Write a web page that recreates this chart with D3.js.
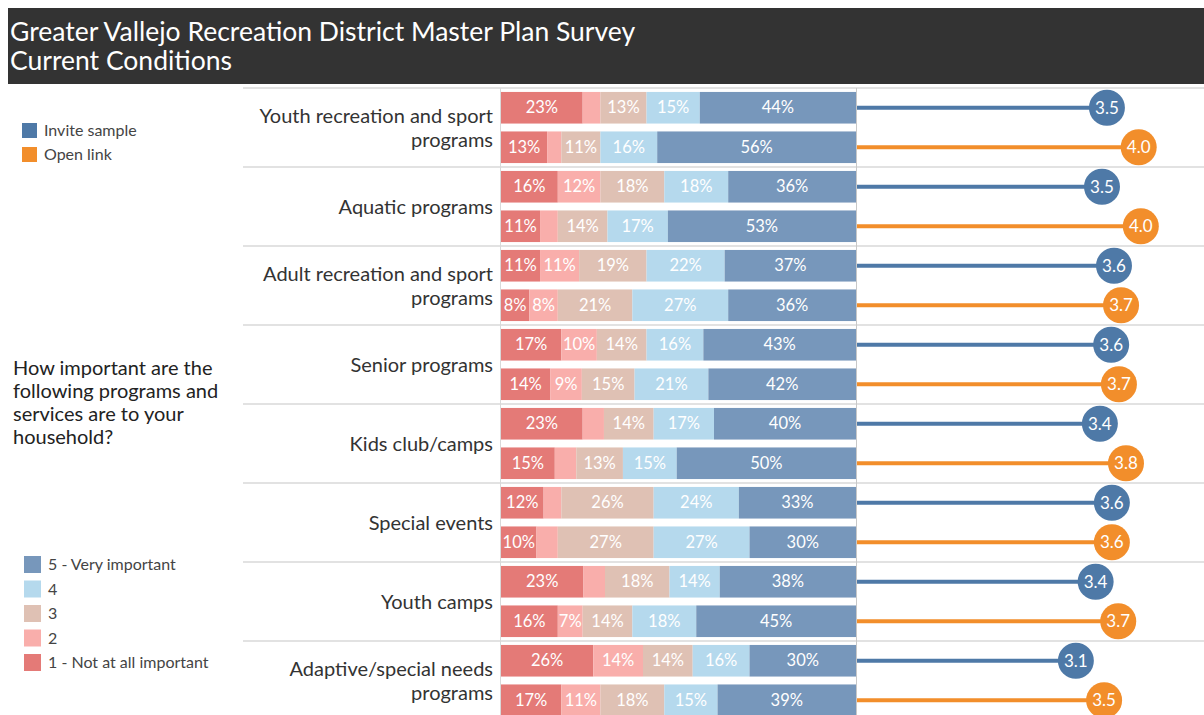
<!DOCTYPE html>
<html><head><meta charset="utf-8">
<script src="https://cdn.jsdelivr.net/npm/d3@7"></script>
<style>
html,body{margin:0;padding:0;background:#fff;}
svg{display:block;font-family:Lato,"Open Sans",sans-serif;}
</style></head>
<body>
<svg id="chart" width="1204" height="715"></svg>
<script>
const titleLines = ["Greater Vallejo Recreation District Master Plan Survey", "Current Conditions"];
const questionLines = ["How important are the", "following programs and", "services are to your", "household?"];
const categories = [
  ["Youth recreation and sport", "programs"],
  ["Aquatic programs"],
  ["Adult recreation and sport", "programs"],
  ["Senior programs"],
  ["Kids club/camps"],
  ["Special events"],
  ["Youth camps"],
  ["Adaptive/special needs", "programs"]
];
const samples = ["Invite sample", "Open link"];
const ratingLabels = ["1 - Not at all important", "2", "3", "4", "5 - Very important"];
// shares of ratings 1..5 (percent) per category, invite sample
const inviteShares = [
  [23, 5, 13, 15, 44],
  [16, 12, 18, 18, 36],
  [11, 11, 19, 22, 37],
  [17, 10, 14, 16, 43],
  [23, 6, 14, 17, 40],
  [12, 5, 26, 24, 33],
  [23, 6, 18, 14, 38],
  [26, 14, 14, 16, 30]
];
// open link
const openShares = [
  [13, 4, 11, 16, 56],
  [11, 5, 14, 17, 53],
  [8, 8, 21, 27, 36],
  [14, 9, 15, 21, 42],
  [15, 6, 13, 15, 50],
  [10, 6, 27, 27, 30],
  [16, 7, 14, 18, 45],
  [17, 11, 18, 15, 39]
];
const inviteMeans = [3.54, 3.47, 3.64, 3.60, 3.44, 3.61, 3.38, 3.10];
const openMeans = [3.99, 4.02, 3.74, 3.71, 3.81, 3.61, 3.70, 3.50];

const sampleColors = ["#4e79a7", "#f28e2b"];
const ratingColors = ["#e47a77", "#f9aeab", "#dfc1b4", "#b5d9ed", "#7797bb"];

const svg = d3.select("#chart");

// Title bar
svg.append("rect").attr("x", 8).attr("y", 8).attr("width", 1196).attr("height", 76).attr("fill", "#333333");
svg.append("g").selectAll("text").data(titleLines).join("text")
  .attr("x", 10).attr("y", (d, i) => 41 + i * 29)
  .attr("fill", "#fff").attr("font-size", 26.5).text(d => d);

// Layout scales
const rowsTop = 88, bandH = 79;
const yCat = d3.scaleBand().domain(d3.range(categories.length)).range([rowsTop, rowsTop + bandH * categories.length]);
const ySub = d3.scaleBand().domain([0, 1]).range([0, bandH]).paddingInner(0.2).paddingOuter(0.1);
const xBar = d3.scaleLinear().domain([0, 1]).range([501, 856]);
const xMean = d3.scaleLinear().domain([0, 5]).range([857, 1210]);

// separators
const sepG = svg.append("g");
sepG.selectAll("line").data(d3.range(categories.length + 1)).join("line")
  .attr("x1", 243).attr("x2", 1204)
  .attr("y1", d => rowsTop + d * bandH).attr("y2", d => rowsTop + d * bandH)
  .attr("stroke", "#d9d9d9").attr("stroke-width", 1.5);
sepG.append("line").attr("x1", 500.5).attr("x2", 500.5).attr("y1", rowsTop).attr("y2", 715).attr("stroke", "#d9d9d9");
sepG.append("line").attr("x1", 856.5).attr("x2", 856.5).attr("y1", rowsTop).attr("y2", 715).attr("stroke", "#c8c8c8");

// Category labels
const catG = svg.append("g");
categories.forEach((lines, i) => {
  const cy = yCat(i) + bandH / 2;
  const n = lines.length;
  lines.forEach((t, j) => {
    catG.append("text").attr("x", 493).attr("y", cy + (j - (n - 1) / 2) * 24 + 7)
      .attr("text-anchor", "end").attr("font-size", 20).attr("fill", "#333").text(t);
  });
});

// Bars
const rows = [];
categories.forEach((c, i) => {
  [inviteShares[i], openShares[i]].forEach((vals, s) => {
    const total = d3.sum(vals);
    let cum = 0;
    vals.forEach((v, k) => {
      rows.push({cat: i, s, k, v, x0: cum / total, x1: (cum + v) / total});
      cum += v;
    });
  });
});
const barG = svg.append("g");
barG.selectAll("rect").data(rows).join("rect")
  .attr("x", d => xBar(d.x0)).attr("width", d => xBar(d.x1) - xBar(d.x0))
  .attr("y", d => yCat(d.cat) + ySub(d.s)).attr("height", ySub.bandwidth())
  .attr("fill", d => ratingColors[d.k]);
barG.selectAll("text").data(rows.filter(d => d.v >= 7)).join("text")
  .attr("x", d => (xBar(d.x0) + xBar(d.x1)) / 2)
  .attr("y", d => yCat(d.cat) + ySub(d.s) + ySub.bandwidth() / 2 + 5.5)
  .attr("text-anchor", "middle").attr("font-size", 16.5).attr("fill", "#fff")
  .text(d => d.v + "%");

// Mean lollipops
const means = [];
categories.forEach((c, i) => {
  means.push({cat: i, s: 0, v: inviteMeans[i]});
  means.push({cat: i, s: 1, v: openMeans[i]});
});
const mG = svg.append("g");
const cyOf = d => yCat(d.cat) + ySub(d.s) + ySub.bandwidth() / 2;
mG.selectAll("line").data(means).join("line")
  .attr("x1", xMean(0)).attr("x2", d => xMean(d.v))
  .attr("y1", cyOf).attr("y2", cyOf)
  .attr("stroke", d => sampleColors[d.s]).attr("stroke-width", 4);
mG.selectAll("circle").data(means).join("circle")
  .attr("cx", d => xMean(d.v)).attr("cy", cyOf).attr("r", 18)
  .attr("fill", d => sampleColors[d.s]);
mG.selectAll("text").data(means).join("text")
  .attr("x", d => xMean(d.v)).attr("y", d => cyOf(d) + 6)
  .attr("text-anchor", "middle").attr("font-size", 17).attr("fill", "#fff")
  .text(d => d3.format(".1f")(d.v));

// Sample legend
const l1 = svg.append("g");
samples.forEach((t, i) => {
  l1.append("rect").attr("x", 22).attr("y", 123 + i * 24).attr("width", 15).attr("height", 15).attr("fill", sampleColors[i]);
  l1.append("text").attr("x", 44).attr("y", 136 + i * 24).attr("font-size", 16).attr("fill", "#444").text(t);
});

// Question text
svg.append("g").selectAll("text").data(questionLines).join("text")
  .attr("x", 13).attr("y", (d, i) => 375 + i * 23)
  .attr("font-size", 20).attr("fill", "#222").text(d => d);

// Rating legend (5 at top)
const l2 = svg.append("g");
d3.range(5).reverse().forEach((k, i) => {
  l2.append("rect").attr("x", 24).attr("y", 556 + i * 24.5).attr("width", 17).attr("height", 17).attr("fill", ratingColors[k]);
  l2.append("text").attr("x", 48).attr("y", 570 + i * 24.5).attr("font-size", 16).attr("fill", "#444").text(ratingLabels[k]);
});
</script>
</body></html>
